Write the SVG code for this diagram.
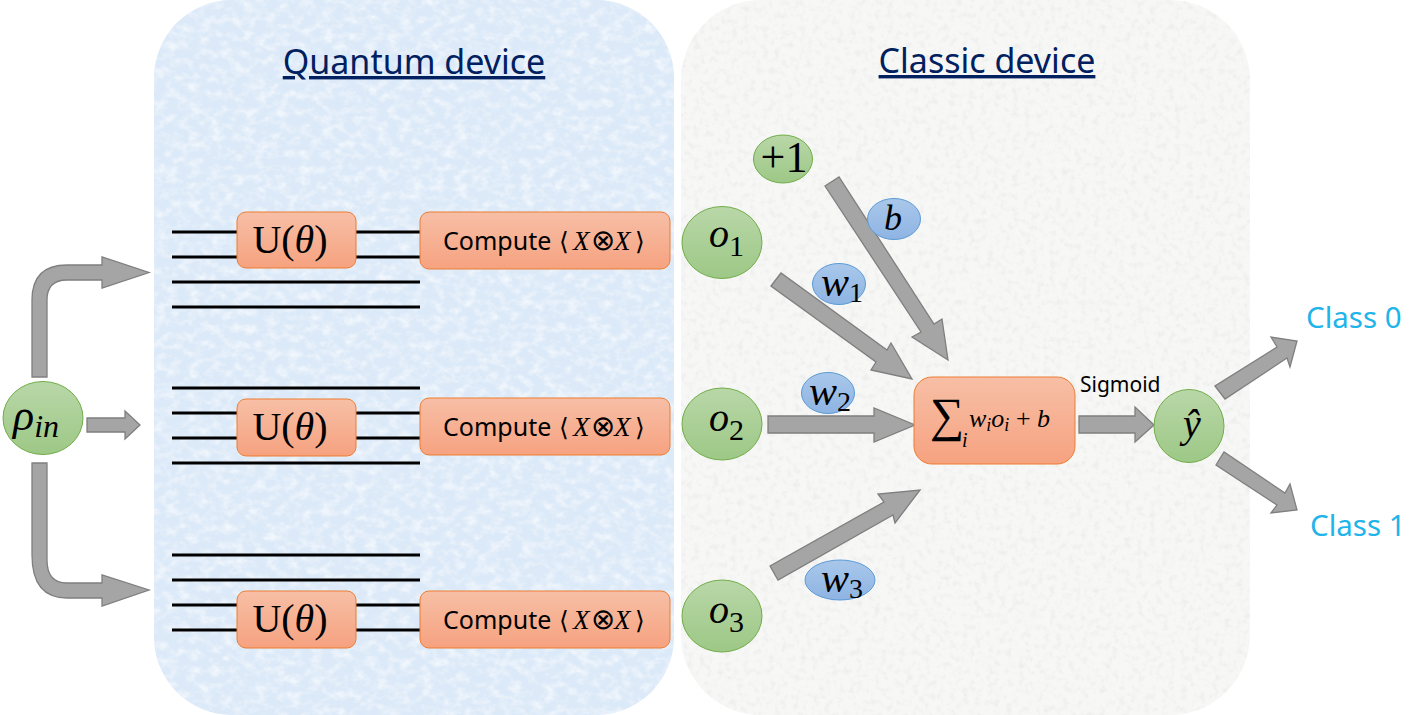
<svg xmlns="http://www.w3.org/2000/svg" width="1427" height="715" viewBox="0 0 1427 715">
<style>
.ar{fill:#a5a5a5;stroke:#7f7f7f;stroke-width:1.3;stroke-linejoin:miter}
.wire{stroke:#000;stroke-width:3;fill:none}
.box{fill:url(#orange);stroke:#ed7d31;stroke-width:1}
.gn{fill:url(#green);stroke:#70ad47;stroke-width:1}
.bl{fill:url(#blue);stroke:#5b9bd5;stroke-width:1}
.m{font-family:"Liberation Serif","DejaVu Serif",serif;font-style:italic;fill:#000}
.u{font-family:"Liberation Serif","DejaVu Serif",serif;font-style:normal;fill:#000}
.s{font-family:"Noto Sans","Open Sans",sans-serif;fill:#000}
.t{font-family:"Noto Sans","Open Sans",sans-serif;font-size:34px;fill:#002060;text-decoration:underline}
.c{font-family:"Noto Sans","Open Sans",sans-serif;font-size:29.500px;fill:#1fb4ea}
</style>
<defs>
<linearGradient id="orange" x1="0" y1="0" x2="0" y2="1"><stop offset="0" stop-color="#f7bfa6"/><stop offset="1" stop-color="#f6a280"/></linearGradient>
<linearGradient id="green" x1="0" y1="0" x2="0" y2="1"><stop offset="0" stop-color="#b9d7a8"/><stop offset="1" stop-color="#9dc886"/></linearGradient>
<linearGradient id="blue" x1="0" y1="0" x2="0" y2="1"><stop offset="0" stop-color="#a9c7ea"/><stop offset="1" stop-color="#8eb4e3"/></linearGradient>
<filter id="texBlue" x="0" y="0" width="1" height="1">
<feTurbulence type="fractalNoise" baseFrequency="0.09 0.12" numOctaves="4" seed="7"/>
<feColorMatrix type="matrix" values="0 0 0 0 0.93  0 0 0 0 0.96  0 0 0 0 0.99  1.8 0 0 0 -0.75"/>
<feComposite in2="SourceGraphic" operator="in" result="n"/>
<feMerge><feMergeNode in="SourceGraphic"/><feMergeNode in="n"/></feMerge>
</filter>
<filter id="texGrey" x="0" y="0" width="1" height="1">
<feTurbulence type="fractalNoise" baseFrequency="0.16" numOctaves="4" seed="3"/>
<feColorMatrix type="matrix" values="0 0 0 0 0.83  0 0 0 0 0.83  0 0 0 0 0.83  2 0 0 0 -0.95"/>
<feComposite in2="SourceGraphic" operator="in" result="n"/>
<feMerge><feMergeNode in="SourceGraphic"/><feMergeNode in="n"/></feMerge>
</filter>
</defs>

<rect width="1427" height="715" fill="#fff"/>
<g id="quantum-panel">
<rect x="154" y="0" width="520" height="715" rx="78" ry="78" fill="#dbe9f8" filter="url(#texBlue)"/>
<text class="t" x="414" y="74" text-anchor="middle">Quantum device</text>
</g>
<g id="classic-panel">
<rect x="681" y="0" width="569" height="715" rx="80" ry="80" fill="#f7f7f6" filter="url(#texGrey)"/>
<text class="t" x="987" y="73" text-anchor="middle">Classic device</text>
</g>

<g id="wires">
<path class="wire" d="M172 232H420M172 257H420M172 282H420M172 307H420"/>
<path class="wire" d="M172 388H420M172 413H420M172 438H420M172 463H420"/>
<path class="wire" d="M172 555H420M172 580H420M172 605H420M172 630H420"/>
</g>

<g id="connectors">
<path class="ar" d="M32 377V300Q32 265 67 265H102V257L149 272.500 102 288V280H67Q47 280 47 300V377Z"/>
<path class="ar" d="M87 418H125V411L140 425 125 439V432H87Z"/>
<path class="ar" d="M32 463V555Q32 598 67 598H102V606L149 590 102 575V583H67Q47 583 47 560V463Z"/>
<path class="ar" d="M825 186L839 177 934 324 942 319 948 360 912 337 921 332Z"/>
<path class="ar" d="M771 286L781 273 887 350 891 343 912 379 871 370 876 362Z"/>
<path class="ar" d="M768 416H874V408L915 425 874 442V433H768Z"/>
<path class="ar" d="M770 566L778 580 893 515 895 523 920 490 878 494 884 502Z"/>
<path class="ar" d="M1079 416H1135V407L1154 425 1135 442V433H1079Z"/>
<path class="ar" d="M1215 386L1225 399 1287 358 1290 367 1297 341 1271 337 1277 347Z"/>
<path class="ar" d="M1216 465L1224 452 1285 493 1290 484 1297 510 1271 513 1277 505Z"/>
</g>

<g id="rho"><ellipse class="gn" cx="43" cy="418" rx="40" ry="36.500"/>
<text class="m" x="13" y="430" font-size="44">ρ<tspan font-size="32" dy="7">in</tspan></text></g>

<g id="u1"><rect class="box" x="237" y="212" width="119" height="56" rx="9"/><text class="u" x="290" y="253" font-size="40" text-anchor="middle">U(<tspan class="m">θ</tspan>)</text></g>
<g id="u2"><rect class="box" x="237" y="399" width="119" height="57" rx="9"/><text class="u" x="290" y="440" font-size="40" text-anchor="middle">U(<tspan class="m">θ</tspan>)</text></g>
<g id="u3"><rect class="box" x="237" y="591" width="119" height="57" rx="9"/><text class="u" x="290" y="632" font-size="40" text-anchor="middle">U(<tspan class="m">θ</tspan>)</text></g>

<g id="compute1"><rect class="box" x="420" y="212" width="250" height="57" rx="9"/><text class="s" y="250" font-size="25"><tspan x="443">Compute</tspan><tspan x="559">⟨</tspan><tspan class="m" x="573" font-size="27">X</tspan><tspan x="591" font-size="29">⊗</tspan><tspan class="m" x="614" font-size="27">X</tspan><tspan x="635">⟩</tspan></text></g>
<g id="compute2"><rect class="box" x="420" y="398" width="250" height="57" rx="9"/><text class="s" y="436" font-size="25"><tspan x="443">Compute</tspan><tspan x="559">⟨</tspan><tspan class="m" x="573" font-size="27">X</tspan><tspan x="591" font-size="29">⊗</tspan><tspan class="m" x="614" font-size="27">X</tspan><tspan x="635">⟩</tspan></text></g>
<g id="compute3"><rect class="box" x="420" y="591" width="250" height="57" rx="9"/><text class="s" y="629" font-size="25"><tspan x="443">Compute</tspan><tspan x="559">⟨</tspan><tspan class="m" x="573" font-size="27">X</tspan><tspan x="591" font-size="29">⊗</tspan><tspan class="m" x="614" font-size="27">X</tspan><tspan x="635">⟩</tspan></text></g>

<g id="o1"><ellipse class="gn" cx="722" cy="242.500" rx="40" ry="36"/><text class="m" x="709" y="247" font-size="40">o<tspan class="u" font-size="30" dy="9">1</tspan></text></g>
<g id="o2"><ellipse class="gn" cx="722" cy="424" rx="40" ry="36"/><text class="m" x="709" y="431" font-size="40">o<tspan class="u" font-size="30" dy="9">2</tspan></text></g>
<g id="o3"><ellipse class="gn" cx="722" cy="616" rx="40" ry="36"/><text class="m" x="709" y="623" font-size="40">o<tspan class="u" font-size="30" dy="9">3</tspan></text></g>
<g id="bias"><ellipse class="gn" cx="783" cy="159" rx="29.500" ry="24"/><text class="u" x="784" y="172" font-size="44" text-anchor="middle">+1</text></g>

<g id="b"><ellipse class="bl" cx="894" cy="219" rx="26.500" ry="20.500"/><text class="m" x="893" y="230" font-size="36" text-anchor="middle">b</text></g>
<g id="w1"><ellipse class="bl" cx="839" cy="284" rx="26.500" ry="20.500"/><text class="m" x="821" y="296" font-size="42">w<tspan class="u" font-size="28" dy="6">1</tspan></text></g>
<g id="w2"><ellipse class="bl" cx="828" cy="393" rx="26.500" ry="20.500"/><text class="m" x="809" y="405" font-size="42">w<tspan class="u" font-size="28" dy="6">2</tspan></text></g>
<g id="w3"><ellipse class="bl" cx="840" cy="580" rx="35" ry="20"/><text class="m" x="821" y="592" font-size="42">w<tspan class="u" font-size="28" dy="6">3</tspan></text></g>

<g id="sum"><rect class="box" x="914" y="377" width="161" height="87" rx="18"/>
<text class="u" x="930" y="431" font-size="48">∑</text>
<text class="m" x="962" y="447" font-size="20">i</text>
<text class="m" x="969" y="427" font-size="26">w<tspan font-size="18" dy="4">i</tspan><tspan dy="-4">o</tspan><tspan font-size="18" dy="4">i</tspan><tspan class="u" dy="-4"> + </tspan>b</text></g>

<g id="yhat"><ellipse class="gn" cx="1189" cy="426" rx="35" ry="36.500"/><text class="m" x="1192" y="437" font-size="40" text-anchor="middle">ŷ</text></g>

<text class="s" x="1080" y="392" font-size="21">Sigmoid</text>
<text class="c" x="1306" y="328">Class 0</text>
<text class="c" x="1310" y="536">Class 1</text>
</svg>
